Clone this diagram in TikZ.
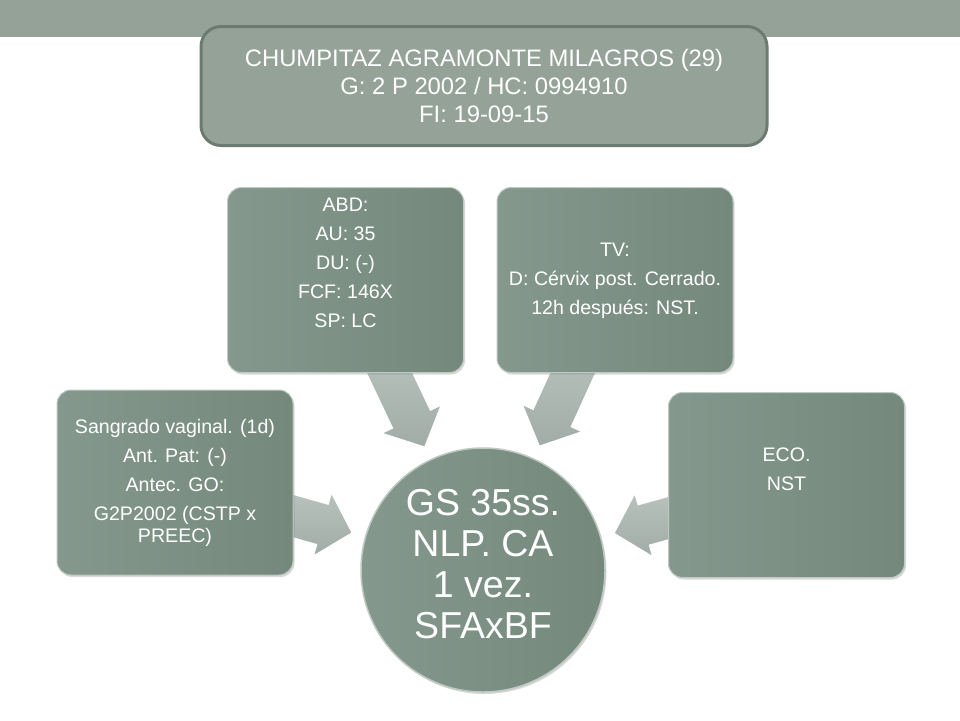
\documentclass[tikz,border=0pt]{standalone}
\usepackage{fontspec}
\setmainfont{Liberation Sans}
\usetikzlibrary{calc,shadows}
\pgfdeclarelayer{back}
\pgfdeclarelayer{bg}
\pgfsetlayers{back,bg,main}
\definecolor{barcol}{HTML}{94A297}
\definecolor{hdrborder}{HTML}{6C7A70}
\definecolor{boxA}{HTML}{85988D}
\definecolor{boxB}{HTML}{74887C}
\definecolor{arrA}{HTML}{BDC6C1}
\definecolor{arrB}{HTML}{A0ACA5}
\definecolor{rim}{HTML}{BFC9C3}
\newcommand\radarrow[3]{%
  \coordinate (#3tip) at ($(#1.center)!136pt!(#2.center)$);
  \coordinate (#3h) at ($(#1.center)!167pt!(#2.center)$);
  \coordinate (#3t) at ($(#1.center)!250pt!(#2.center)$);
  \coordinate (#3b1) at ($(#3h)!33pt!90:(#2.center)$);
  \coordinate (#3b2) at ($(#3h)!33pt!-90:(#2.center)$);
  \coordinate (#3s1) at ($(#3h)!21pt!90:(#2.center)$);
  \coordinate (#3s2) at ($(#3h)!21pt!-90:(#2.center)$);
  \coordinate (#3e1) at ($(#3t)!21pt!90:(#2.center)$);
  \coordinate (#3e2) at ($(#3t)!21pt!-90:(#2.center)$);
  \draw[flowarrow] (#3tip) -- (#3b1) -- (#3s1) -- (#3e1) -- (#3e2) -- (#3s2) -- (#3b2) -- cycle;
}
\begin{document}
\begin{tikzpicture}[x=1pt,y=-1pt,
  infobox/.style={rectangle, rounded corners=14pt, minimum width=236pt, minimum height=185pt,
    inner sep=0pt, left color=boxA, right color=boxB, draw=rim, line width=1pt,
    drop shadow={opacity=0.3, shadow xshift=1.5pt, shadow yshift=-2pt}},
  boxtext/.style={text=white, align=center, font=\fontsize{19.6}{29}\selectfont, inner sep=0pt},
  hub/.style={circle, minimum size=244pt, inner sep=0pt, left color=boxA, right color=boxB,
    draw=rim, line width=1.5pt, drop shadow={opacity=0.3, shadow xshift=1.5pt, shadow yshift=-2pt}},
  hubtext/.style={text=white, align=center, font=\fontsize{37.5}{41}\selectfont, inner sep=0pt},
  hdr/.style={rectangle, rounded corners=20pt, minimum width=566pt, minimum height=119pt,
    fill=barcol, draw=hdrborder, line width=3pt, text=white, align=center,
    font=\fontsize{23.8}{28}\selectfont},
  flowarrow/.style={top color=arrA, bottom color=arrB, draw=white, line width=1.2pt, line join=miter}
]
\useasboundingbox (0,0) rectangle (960,720);
\begin{pgfonlayer}{back}
\fill[white] (0,0) rectangle (960,720);
\end{pgfonlayer}
\fill[barcol] (0,0) rectangle (960,37);
\node[hdr] (hdr) at (484,86) {CHUMPITAZ AGRAMONTE MILAGROS (29)\\G: 2 P 2002 / HC: 0994910\\FI: 19-09-15};

\node[hub] (hub) at (483,570) {};
\node[hubtext] (hubt) at (483,564) {GS 35ss.\\NLP. CA\\1 vez.\\SFAxBF};

\node[infobox] (ant) at (175,482.5) {};
\node[boxtext] (antt) at (175,483) {Sangrado vaginal. (1d)\\Ant. Pat: (-)\\Antec. GO:\\G2P2002 (CSTP x\\[-7pt]PREEC)};

\node[infobox] (abd) at (345.5,280) {};
\node[boxtext] (abdt) at (345.5,263) {ABD:\\AU: 35\\DU: (-)\\FCF: 146X\\SP: LC};

\node[infobox] (tv) at (615,280) {};
\node[boxtext] (tvt) at (615,281) {TV:\\D: Cérvix post. Cerrado.\\12h después: NST.};

\node[infobox] (eco) at (786.5,485) {};
\node[boxtext] (ecot) at (786.5,469) {ECO.\\NST};

\begin{pgfonlayer}{bg}
\radarrow{hub}{ant}{a}
\radarrow{hub}{abd}{b}
\radarrow{hub}{tv}{c}
\radarrow{hub}{eco}{d}
\end{pgfonlayer}
\end{tikzpicture}
\end{document}
